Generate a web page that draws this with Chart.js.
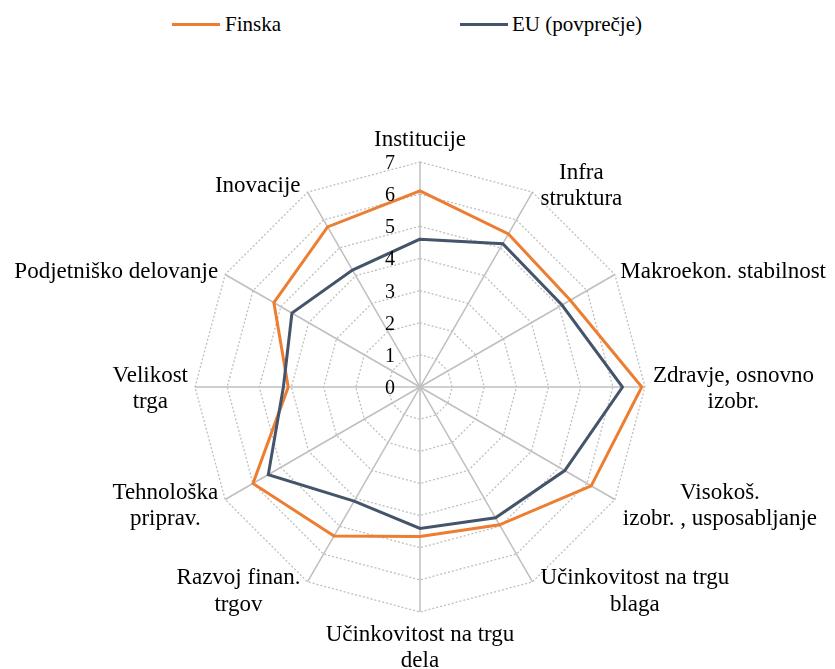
<!DOCTYPE html>
<html lang="sl">
<head>
<meta charset="utf-8">
<title>Finska in EU (povprečje)</title>
<script src="https://cdn.jsdelivr.net/npm/chart.js@4.4.1/dist/chart.umd.min.js"></script>
<style>
  html, body { margin: 0; padding: 0; background: #fff; }
  #wrap { position: relative; width: 835px; height: 669px; }
  #chart { position: absolute; left: 0; top: 0; }
  .legend-line { position: absolute; top: 22.5px; width: 48px; height: 3px; }
  .legend-text {
    position: absolute; top: 14px; white-space: nowrap; color: #000;
    font: 21px/21px "Liberation Serif", "Times New Roman", serif;
  }
</style>
</head>
<body>
<div id="wrap">
  <div class="legend-line" style="left:172px;background:#ED7D31"></div>
  <div class="legend-text" style="left:225px">Finska</div>
  <div class="legend-line" style="left:460px;background:#44546A"></div>
  <div class="legend-text" style="left:512px">EU (povprečje)</div>
  <canvas id="chart" width="835" height="669"></canvas>
</div>
<script>
// axis names, clockwise from the top
const categories = [
    ["Institucije"],
    ["Infra", "struktura"],
    ["Makroekon. stabilnost"],
    ["Zdravje, osnovno", "izobr."],
    ["Visokoš.", "izobr. , usposabljanje"],
    ["Učinkovitost na trgu", "blaga"],
    ["Učinkovitost na trgu", "dela"],
    ["Razvoj finan.", "trgov"],
    ["Tehnološka", "priprav."],
    ["Velikost", "trga"],
    ["Podjetniško delovanje"],
    ["Inovacije"],
];
const finskaValues = [6.1, 5.5, 5.4, 6.9, 6.15, 4.95, 4.65, 5.35, 6.0, 4.1, 5.25, 5.75];
const euValues = [4.6, 5.15, 5.1, 6.3, 5.2, 4.7, 4.4, 4.1, 5.45, 4.25, 4.6, 4.2];
const tickValues = [0, 1, 2, 3, 4, 5, 6, 7];

const ORANGE = "#ED7D31";
const SLATE = "#44546A";
const GRID = "#bfbfbf";
const SERIF = '"Liberation Serif", "Times New Roman", serif';
const LABEL_LINE = 26.5;
const LABEL_CAP = 15.5;

// Excel-like labels: centred lines, box placed beside the end of each spoke
const axisLabelsPlugin = {
    id: "axisLabels",
    afterDraw(chart) {
        const scale = chart.scales.r;
        const ctx = chart.ctx;
        ctx.save();
        ctx.fillStyle = "#000";
        ctx.textAlign = "center";
        ctx.textBaseline = "alphabetic";

        ctx.font = `23px ${SERIF}`;
        categories.forEach((lines, i) => {
            const angle = scale.getIndexAngle(i);
            const pos = scale.getPointPosition(i, scale.drawingArea);
            const sin = Math.sin(angle);
            const cos = Math.cos(angle);
            const boxW = Math.max(...lines.map((l) => ctx.measureText(l).width));
            const blockH = LABEL_CAP + (lines.length - 1) * LABEL_LINE;
            let cx;
            let top;
            if (Math.abs(sin) < 0.05) {
                cx = pos.x;
                top = cos > 0 ? pos.y - 16 - blockH : pos.y + 13;
            } else {
                cx = sin > 0 ? pos.x + 8 + boxW / 2 : pos.x - 7 - boxW / 2;
                top = pos.y - 9 * cos - blockH / 2;
            }
            cx = Math.min(cx, chart.width - 9 - boxW / 2);
            cx = Math.max(cx, 9 + boxW / 2);
            lines.forEach((line, k) => ctx.fillText(line, cx, top + LABEL_CAP + k * LABEL_LINE));
        });

        ctx.font = `20px ${SERIF}`;
        ctx.textAlign = "right";
        tickValues.forEach((v) => {
            const y = scale.yCenter - scale.getDistanceFromCenterForValue(v);
            ctx.fillText(String(v), scale.xCenter - 25, y + 7);
        });
        ctx.restore();
    },
};

new Chart(document.getElementById("chart"), {
    type: "radar",
    data: {
        labels: categories,
        datasets: [
            {
                label: "Finska",
                data: finskaValues,
                borderColor: ORANGE,
                backgroundColor: ORANGE,
                borderWidth: 3,
                pointRadius: 0,
                fill: false,
                order: 1,
            },
            {
                label: "EU (povprečje)",
                data: euValues,
                borderColor: SLATE,
                backgroundColor: SLATE,
                borderWidth: 3,
                pointRadius: 0,
                fill: false,
                order: 0,
            },
        ],
    },
    options: {
        responsive: false,
        animation: false,
        layout: { padding: { top: 162, bottom: 57, left: 5, right: 0 } },
        plugins: {
            legend: { display: false },
            tooltip: { enabled: false },
        },
        scales: {
            r: {
                min: 0,
                max: 7,
                ticks: { stepSize: 1, display: false },
                pointLabels: { display: false },
                grid: { color: GRID, lineWidth: 1.3, borderDash: [2, 2] },
                border: { dash: [2, 2] },
                angleLines: { color: GRID, lineWidth: 1.5 },
            },
        },
    },
    plugins: [axisLabelsPlugin],
});
</script>
</body>
</html>
